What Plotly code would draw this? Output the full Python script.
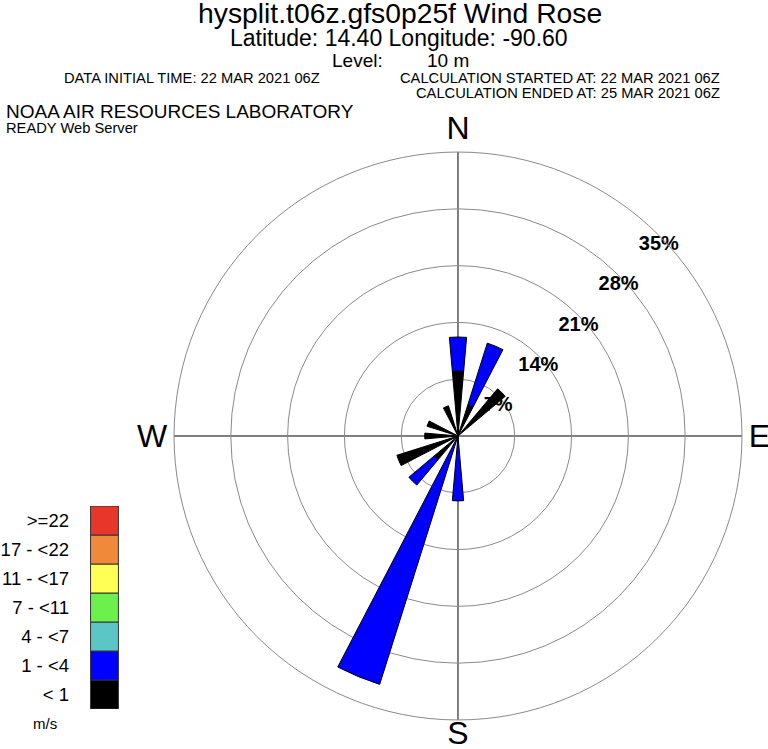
import plotly.graph_objects as go

# ---- data ----
directions = [0, 22.5, 45, 67.5, 90, 112.5, 135, 157.5,
              180, 202.5, 225, 247.5, 270, 292.5, 315, 337.5]
calm_lt1 = [8.0, 4.0, 7.6, 0, 0, 0, 0, 0,
            0, 0.5, 3.8, 7.9, 4.1, 4.0, 0, 3.9]
speed_1_4 = [4.2, 8.0, 0, 0, 0, 0, 0, 0,
             8.0, 31.6, 4.1, 0, 0, 0, 0, 0]
ring_values = [7, 14, 21, 28, 35]
ring_labels = ["7%", "14%", "21%", "28%", "35%"]
compass_vals = [0, 90, 180, 270]
compass_text = ["N", "E", "S", "W"]
legend_labels = ["< 1", "1 - <4", "4 - <7", "7 - <11", "11 - <17", "17 - <22", ">=22"]
legend_colors = ["#000000", "#0000FF", "#5CC6C6", "#6CF04C", "#FFFF55", "#F08A3A", "#E8362A"]

FONT = "Liberation Sans, Arial, Helvetica, sans-serif"

fig = go.Figure()

fig.add_trace(go.Barpolar(
    r=calm_lt1, theta=directions, width=10,
    marker=dict(color="#000000", line=dict(color="#000000", width=1)),
    showlegend=False, hoverinfo="skip"))
fig.add_trace(go.Barpolar(
    r=speed_1_4, theta=directions, width=10,
    marker=dict(color="#0000FF", line=dict(color="#000000", width=1)),
    showlegend=False, hoverinfo="skip"))
fig.add_trace(go.Scatterpolar(
    r=ring_values, theta=[45] * len(ring_values), mode="text",
    text=ring_labels, textposition="bottom center",
    textfont=dict(family=FONT, size=20, color="#000000", weight="bold"),
    showlegend=False, hoverinfo="skip"))
# "S" drawn just below the outer ring (tick label would fall off the page)
fig.add_trace(go.Scatterpolar(
    r=[ring_values[-1]], theta=[compass_vals[2]], mode="text",
    text=[compass_text[2]], textposition="bottom center", cliponaxis=False,
    textfont=dict(family=FONT, size=32, color="#000000"),
    showlegend=False, hoverinfo="skip"))

# legend colour column
fig.add_trace(go.Bar(
    x=[1] * len(legend_labels), y=legend_labels, orientation="h", width=1,
    marker=dict(color=legend_colors, line=dict(color="#333333", width=1)),
    xaxis="x", yaxis="y", showlegend=False, hoverinfo="skip"))

fig.update_layout(
    width=768, height=749,
    margin=dict(l=0, r=0, t=0, b=0),
    paper_bgcolor="white", plot_bgcolor="white",
    font=dict(family=FONT, color="#000000"),
    polar=dict(
        domain=dict(x=[0.2266, 0.9661], y=[0.0387, 0.7971]),
        bgcolor="white",
        barmode="stack",
        radialaxis=dict(range=[0, 35], tickvals=ring_values, showticklabels=False,
                        ticks="", showline=False, gridcolor="#8a8a8a", gridwidth=1),
        angularaxis=dict(direction="clockwise", rotation=90,
                         tickmode="array", tickvals=compass_vals,
                         ticktext=[t if t != "S" else "" for t in compass_text],
                         ticks="", tickfont=dict(size=32, family=FONT),
                         showgrid=True, gridcolor="#000000", gridwidth=1.3,
                         showline=True, linecolor="#8a8a8a", linewidth=1),
    ),
    xaxis=dict(domain=[0.1172, 0.1549], range=[-0.02, 1.02], visible=False, fixedrange=True),
    yaxis=dict(domain=[0.0534, 0.3244], range=[-0.5, 6.5], showgrid=False, zeroline=False,
               showline=False, ticks="", ticklabelstandoff=20,
               tickfont=dict(size=18.5, family=FONT), fixedrange=True),
    showlegend=False,
)

def ann(text, x, y, size, xanchor="center"):
    fig.add_annotation(text=text, x=x, y=y, xref="paper", yref="paper",
                       xanchor=xanchor, yanchor="middle", showarrow=False,
                       font=dict(size=size, family=FONT, color="#000000"))

ann("hysplit.t06z.gfs0p25f Wind Rose", 0.5208, 0.9826, 28.3)
ann("Latitude: 14.40 Longitude: -90.60", 0.5195, 0.9493, 23)
ann("Level:", 0.4658, 0.9186, 19)
ann("10 m", 0.5827, 0.9186, 19)
ann("DATA INITIAL TIME: 22 MAR 2021 06Z", 0.0807, 0.8959, 14.7, "left")
ann("CALCULATION STARTED AT: 22 MAR 2021 06Z", 0.9401, 0.8959, 14.7, "right")
ann("CALCULATION ENDED AT: 25 MAR 2021 06Z", 0.9401, 0.8758, 14.7, "right")
ann("NOAA AIR RESOURCES LABORATORY", 0.0052, 0.8505, 19, "left")
ann("READY Web Server", 0.0052, 0.8291, 14.7, "left")
ann("m/s", 0.0586, 0.0347, 15)

fig.write_html("out.html", config={"displayModeBar": False},
               post_script="document.body.style.margin='0';")
